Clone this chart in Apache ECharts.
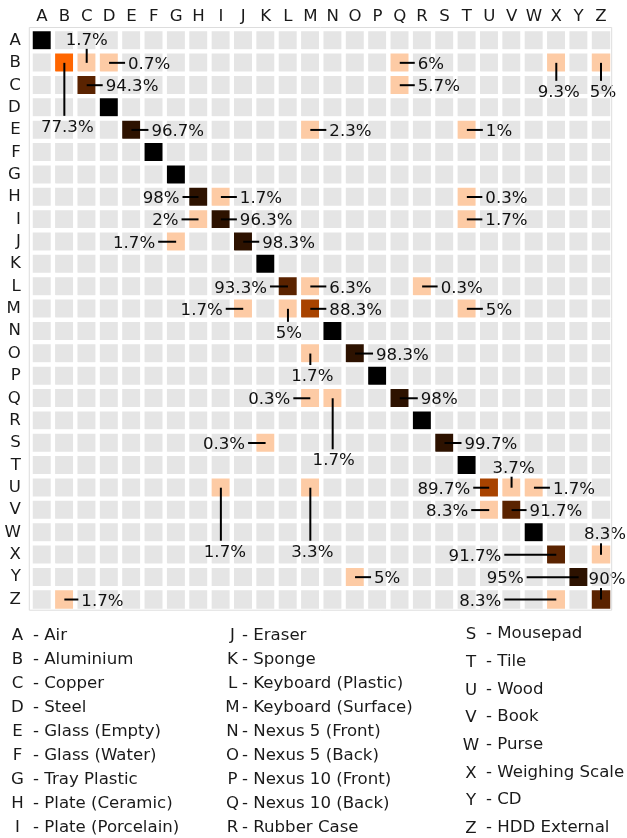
<!DOCTYPE html>
<html><head><meta charset="utf-8">
<script src="https://cdn.jsdelivr.net/npm/echarts@6/dist/echarts.min.js"></script>
<style>html,body{margin:0;padding:0;background:#fff}#c{width:627px;height:838px}</style>
</head><body><div id="c"></div>
<script>
// ---- data ----
const letters = ['A','B','C','D','E','F','G','H','I','J','K','L','M','N','O','P','Q','R','S','T','U','V','W','X','Y','Z'];
const classNames = ['Air','Aluminium','Copper','Steel','Glass (Empty)','Glass (Water)','Tray Plastic','Plate (Ceramic)','Plate (Porcelain)','Eraser','Sponge','Keyboard (Plastic)','Keyboard (Surface)','Nexus 5 (Front)','Nexus 5 (Back)','Nexus 10 (Front)','Nexus 10 (Back)','Rubber Case','Mousepad','Tile','Wood','Book','Purse','Weighing Scale','CD','HDD External'];
// non-zero cells of the confusion matrix (true class, predicted class, percent)
const trueClass = ['A','B','B','B','B','B','B','C','C','D','E','E','E','F','G','H','H','H','I','I','I','J','J','K','L','L','L','M','M','M','M','N','O','O','P','Q','Q','Q','R','S','S','T','U','U','U','U','U','V','V','W','X','X','Y','Y','Z','Z','Z'];
const predClass = ['A','B','C','D','Q','X','Z','C','Q','D','E','M','T','F','G','H','I','T','H','I','T','G','J','K','L','M','R','J','L','M','T','N','M','O','P','M','N','Q','R','K','S','T','I','M','U','V','W','U','V','W','X','Z','O','Y','B','X','Z'];
const percent   = [100,77.3,1.7,0.7,6,9.3,5,94.3,5.7,100,96.7,2.3,1,100,100,98,1.7,0.3,2,96.3,1.7,1.7,98.3,100,93.3,6.3,0.3,1.7,5,88.3,5,100,1.7,98.3,100,0.3,1.7,98,100,0.3,99.7,100,1.7,3.3,89.7,3.7,1.7,8.3,91.7,100,91.7,8.3,5,95,1.7,8.3,90];

// ---- layout of the annotation labels (side, dx, dy in px), parallel to the cells above ----
const labelLayout = [null,['d',3,63],['u',0,-24],['r',19],['r',18],['d',2.5,28],['d',2,28],['r',19],['r',18],null,['r',20],['r',19],['r',19],null,null,['l',-19],['r',19],['r',18.5],['l',-20],['r',19],['r',18.5],['l',-21],['r',19],null,['l',-21],['r',19],['r',18.5],['l',-20.5],['d',1,23],['r',19],['r',19],null,['d',2,21.5],['r',21],null,['l',-20],['d',1,61],['r',21],null,['l',-20.5],['r',20],null,['d',4,63],['d',2,63],['l',-19],['u',2,-21],['r',19],['l',-21],['r',18],null,['l',-55],['u',4,-21.5],['r',19],['l',-55],['r',17],['l',-55],['u',6,-21.5]];

const FONT = '"DejaVu Sans", sans-serif';
const FS = 16.6;
const TDY = 1.8;
const N = letters.length;
const lut = {};
for (let i = 0; i < trueClass.length; i++) lut[trueClass[i] + predClass[i]] = percent[i];
const heat = [];
for (let r = 0; r < N; r++) for (let c = 0; c < N; c++) {
  const v = lut[letters[r] + letters[c]];
  heat.push([c, r, v === undefined ? 0 : v]);
}
const ann = [], annLay = [];
for (let i = 0; i < trueClass.length; i++) {
  if (!labelLayout[i]) continue;
  ann.push([letters.indexOf(predClass[i]), letters.indexOf(trueClass[i]), percent[i]]);
  annLay.push(labelLayout[i]);
}

const GL = 30.8, GT = 29.3, GS = 581.4;
const graphics = [{
  type: 'rect', z: 100, silent: true,
  shape: { x: GL - 1.5, y: GT - 1.8, width: GS + 1, height: GS + 1.3 },
  style: { fill: 'none', stroke: '#dddddd', lineWidth: 1 }
}];
const colDefs = [
  { from: 0, to: 9, lx: 17.5, tx: 33, y0: 634, dy: 24 },
  { from: 9, to: 18, lx: 232.5, tx: 242, y0: 634, dy: 24 },
  { from: 18, to: 26, lx: 471, tx: 486, y0: 632, dy: 27.7 }
];
colDefs.forEach(cd => {
  for (let i = cd.from; i < cd.to; i++) {
    const y = cd.y0 + (i - cd.from) * cd.dy + TDY;
    graphics.push({ type: 'text', silent: true, style: { text: letters[i], x: cd.lx, y: y + (cd.from === 18 ? 1 : 0), align: 'center', verticalAlign: 'middle', font: FS + 'px ' + FONT, fill: '#1a1a1a' } });
    graphics.push({ type: 'text', silent: true, style: { text: '- ' + classNames[i], x: cd.tx, y: y, align: 'left', verticalAlign: 'middle', font: FS + 'px ' + FONT, fill: '#1a1a1a' } });
  }
});

const chart = echarts.init(document.getElementById('c'), null, { renderer: 'canvas' });
chart.setOption({
  backgroundColor: '#fff',
  animation: false,
  grid: { left: GL, top: GT, width: GS, height: GS, containLabel: false, outerBoundsMode: 'none' },
  xAxis: {
    type: 'category', position: 'top', data: letters,
    axisLine: { show: false }, axisTick: { show: false }, splitLine: { show: false },
    axisLabel: { fontSize: FS, fontFamily: FONT, color: '#1a1a1a', margin: 4, interval: 0 }
  },
  yAxis: {
    type: 'category', inverse: true, data: letters,
    axisLine: { show: false }, axisTick: { show: false }, splitLine: { show: false },
    axisLabel: { fontSize: FS, fontFamily: FONT, color: '#1a1a1a', margin: 10, interval: 0, padding: [3, 0, 0, 0] }
  },
  visualMap: {
    type: 'piecewise', show: false, dimension: 2, seriesIndex: 0,
    pieces: [
      { value: 0, color: '#e5e5e5' },
      { gt: 0, lt: 10, color: '#fdcba5' },
      { gte: 10, lt: 80, color: '#ff6600' },
      { gte: 80, lt: 90, color: '#a84300' },
      { gte: 90, lt: 95, color: '#5a2300' },
      { gte: 95, lt: 100, color: '#2d1200' },
      { gte: 100, color: '#000000' }
    ]
  },
  graphic: graphics,
  series: [
    {
      type: 'heatmap', data: heat,
      itemStyle: { borderColor: '#ffffff', borderWidth: 4.4 },
      emphasis: { disabled: true }, label: { show: false }
    },
    {
      type: 'custom', data: ann, silent: true,
      renderItem: function (params, api) {
        const p = api.coord([api.value(0), api.value(1)]);
        const L = annLay[params.dataIndex];
        const txt = api.value(2) + '%';
        let line, ts;
        if (L[0] === 'r') {
          line = { x1: p[0], y1: p[1], x2: p[0] + L[1] - 3, y2: p[1] };
          ts = { x: p[0] + L[1], y: p[1] + TDY, align: 'left', verticalAlign: 'middle' };
        } else if (L[0] === 'l') {
          line = { x1: p[0], y1: p[1], x2: p[0] + L[1] + 3, y2: p[1] };
          ts = { x: p[0] + L[1], y: p[1] + TDY, align: 'right', verticalAlign: 'middle' };
        } else if (L[0] === 'u') {
          line = { x1: p[0], y1: p[1], x2: p[0], y2: p[1] + L[2] + 10 };
          ts = { x: p[0] + L[1], y: p[1] + L[2] + TDY, align: 'center', verticalAlign: 'middle' };
        } else {
          line = { x1: p[0], y1: p[1], x2: p[0], y2: p[1] + L[2] - 10 };
          ts = { x: p[0] + L[1], y: p[1] + L[2] + TDY, align: 'center', verticalAlign: 'middle' };
        }
        ts.text = txt; ts.font = FS + 'px ' + FONT; ts.fill = '#111';
        return {
          type: 'group',
          children: [
            { type: 'line', shape: line, style: { stroke: '#000', lineWidth: 2 } },
            { type: 'text', style: ts }
          ]
        };
      }
    }
  ]
});
</script>
</body></html>
